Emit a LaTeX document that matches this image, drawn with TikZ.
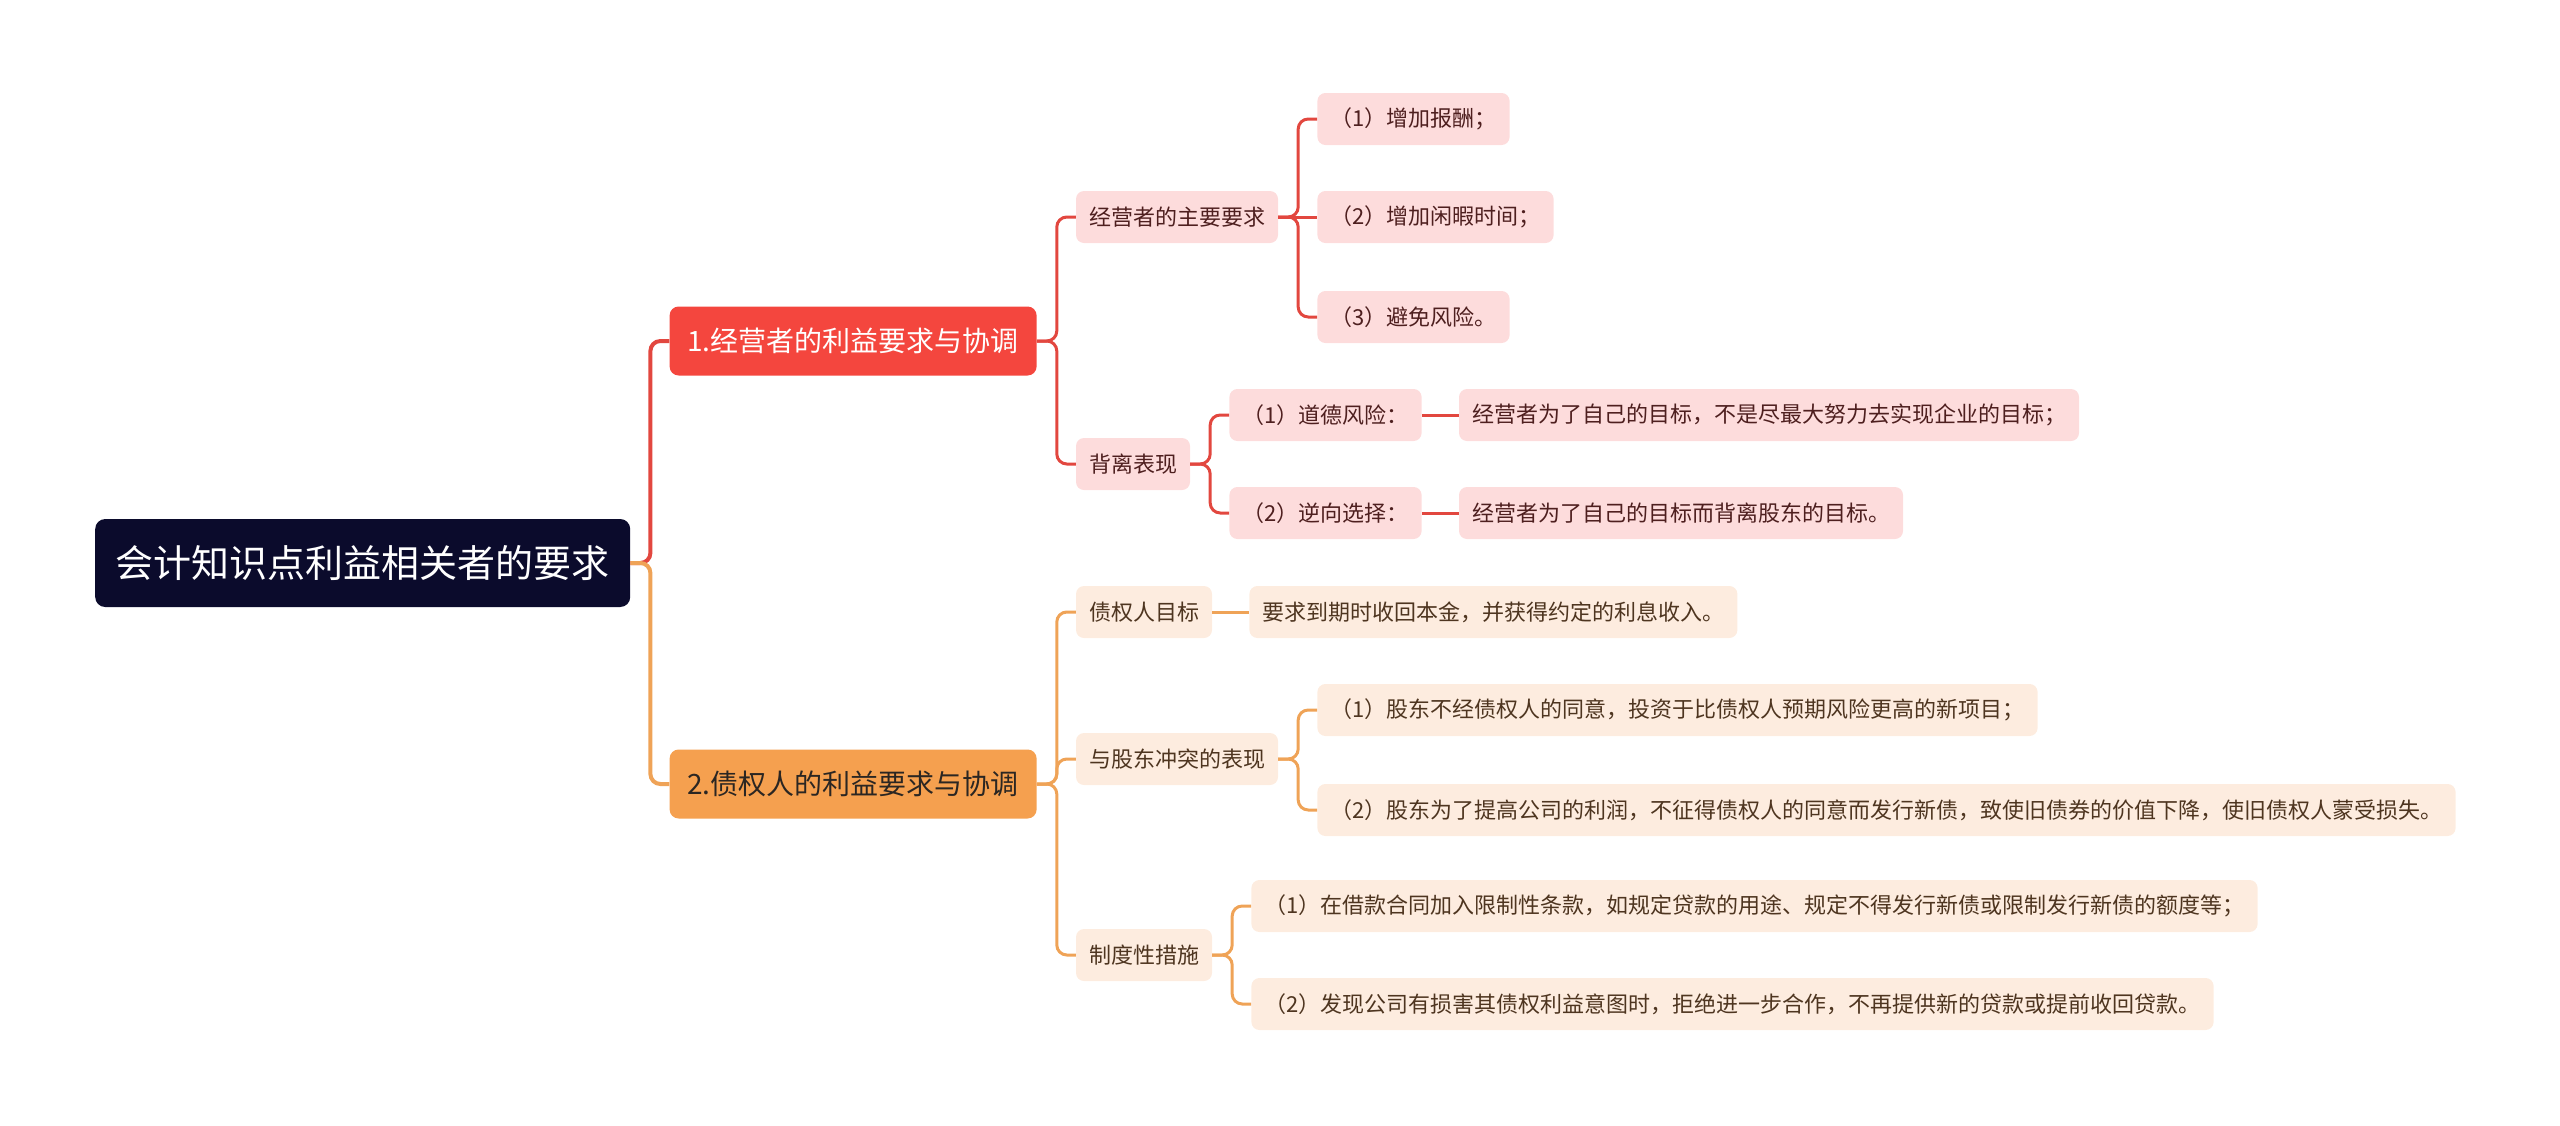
\documentclass[tikz,border=0pt]{standalone}
\usepackage{fontspec}
\setmainfont{Noto Sans CJK SC}
\usetikzlibrary{positioning}

\definecolor{rootblue}{HTML}{0B0B2C}
\definecolor{redmain}{HTML}{F4463E}
\definecolor{redline}{HTML}{E2473F}
\definecolor{redleaf}{HTML}{FDDCDC}
\definecolor{redtext}{HTML}{4E1F1F}
\definecolor{orangemain}{HTML}{F5A04F}
\definecolor{orangeline}{HTML}{EFA357}
\definecolor{orangeleaf}{HTML}{FDECDF}
\definecolor{orangetext}{HTML}{2B2622}
\definecolor{orangeleaftext}{HTML}{4E3520}

\begin{document}
\begin{tikzpicture}[
    x=1pt, y=-1pt,
    node distance=39pt,
    rootbox/.style={rectangle, rounded corners=10pt, minimum width=535pt, minimum height=88pt, inner xsep=19pt, fill=rootblue, text=white, font=\fontsize{38}{46}\selectfont},
    topic/.style={rectangle, rounded corners=9pt, minimum width=367pt, minimum height=69pt, inner xsep=14pt, font=\fontsize{28}{34}\selectfont},
    redtopic/.style={topic, fill=redmain, text=white},
    orangetopic/.style={topic, fill=orangemain, text=orangetext},
    item/.style={rectangle, rounded corners=8pt, minimum height=52pt, inner xsep=13pt, font=\fontsize{22}{26}\selectfont},
    reditem/.style={item, fill=redleaf, text=redtext},
    orangeitem/.style={item, fill=orangeleaf, text=orangeleaftext},
    redlink/.style={draw=redline, line width=3pt, rounded corners=10pt},
    orangelink/.style={draw=orangeline, line width=3pt, rounded corners=10pt},
]
    \useasboundingbox (0,0) rectangle (2560,1125);

    % root
    \node (root) [rootbox, anchor=west] at (95,563) {会计知识点利益相关者的要求};

    % main topics
    \node (econ) [redtopic, right=of root, yshift=222pt] {1.经营者的利益要求与协调};
    \node (cred) [orangetopic, right=of root, yshift=-221pt] {2.债权人的利益要求与协调};

    % manager side
    \node (mainreq) [reditem, right=of econ, yshift=124pt] {经营者的主要要求};
    \node (deviate) [reditem, right=of econ, yshift=-123pt] {背离表现};

    \node (pay) [reditem, right=of mainreq, yshift=98pt] {（1）增加报酬；};
    \node (leisure) [reditem, right=of mainreq] {（2）增加闲暇时间；};
    \node (risk) [reditem, right=of mainreq, yshift=-100pt] {（3）避免风险。};

    \node (moral) [reditem, right=of deviate, yshift=49pt] {（1）道德风险：};
    \node (adverse) [reditem, right=of deviate, yshift=-49pt] {（2）逆向选择：};
    \node (moral_txt) [reditem, right=37pt of moral] {经营者为了自己的目标，不是尽最大努力去实现企业的目标；};
    \node (adverse_txt) [reditem, right=37pt of adverse] {经营者为了自己的目标而背离股东的目标。};

    % creditor side
    \node (goal) [orangeitem, right=of cred, yshift=172pt] {债权人目标};
    \node (conflict) [orangeitem, right=of cred, yshift=25pt] {与股东冲突的表现};
    \node (inst) [orangeitem, right=of cred, yshift=-171pt] {制度性措施};

    \node (goal_txt) [orangeitem, right=37pt of goal] {要求到期时收回本金，并获得约定的利息收入。};

    \node (conf1) [orangeitem, right=of conflict, yshift=49pt] {（1）股东不经债权人的同意，投资于比债权人预期风险更高的新项目；};
    \node (conf2) [orangeitem, right=of conflict, yshift=-51pt] {（2）股东为了提高公司的利润，不征得债权人的同意而发行新债，致使旧债券的价值下降，使旧债权人蒙受损失。};

    \node (inst1) [orangeitem, right=of inst, yshift=49pt] {（1）在借款合同加入限制性条款，如规定贷款的用途、规定不得发行新债或限制发行新债的额度等；};
    \node (inst2) [orangeitem, right=of inst, yshift=-49pt] {（2）发现公司有损害其债权利益意图时，拒绝进一步合作，不再提供新的贷款或提前收回贷款。};

    % connectors
    \draw [redlink, line width=4pt] (root.east) -- ++(20,0) |- (econ.west);
    \draw [orangelink, line width=4pt] (root.east) -- ++(20,0) |- (cred.west);

    \draw [redlink] (econ.east) -- ++(20,0) |- (mainreq.west);
    \draw [redlink] (econ.east) -- ++(20,0) |- (deviate.west);
    \draw [redlink] (mainreq.east) -- ++(20,0) |- (pay.west);
    \draw [redlink] (mainreq.east) -- (leisure.west);
    \draw [redlink] (mainreq.east) -- ++(20,0) |- (risk.west);
    \draw [redlink] (deviate.east) -- ++(20,0) |- (moral.west);
    \draw [redlink] (deviate.east) -- ++(20,0) |- (adverse.west);
    \draw [redlink] (moral) -- (moral_txt);
    \draw [redlink] (adverse) -- (adverse_txt);

    \draw [orangelink] (cred.east) -- ++(20,0) |- (goal.west);
    \draw [orangelink] (cred.east) -- ++(20,0) |- (conflict.west);
    \draw [orangelink] (cred.east) -- ++(20,0) |- (inst.west);
    \draw [orangelink] (goal) -- (goal_txt);
    \draw [orangelink] (conflict.east) -- ++(20,0) |- (conf1.west);
    \draw [orangelink] (conflict.east) -- ++(20,0) |- (conf2.west);
    \draw [orangelink] (inst.east) -- ++(20,0) |- (inst1.west);
    \draw [orangelink] (inst.east) -- ++(20,0) |- (inst2.west);

\end{tikzpicture}
\end{document}
